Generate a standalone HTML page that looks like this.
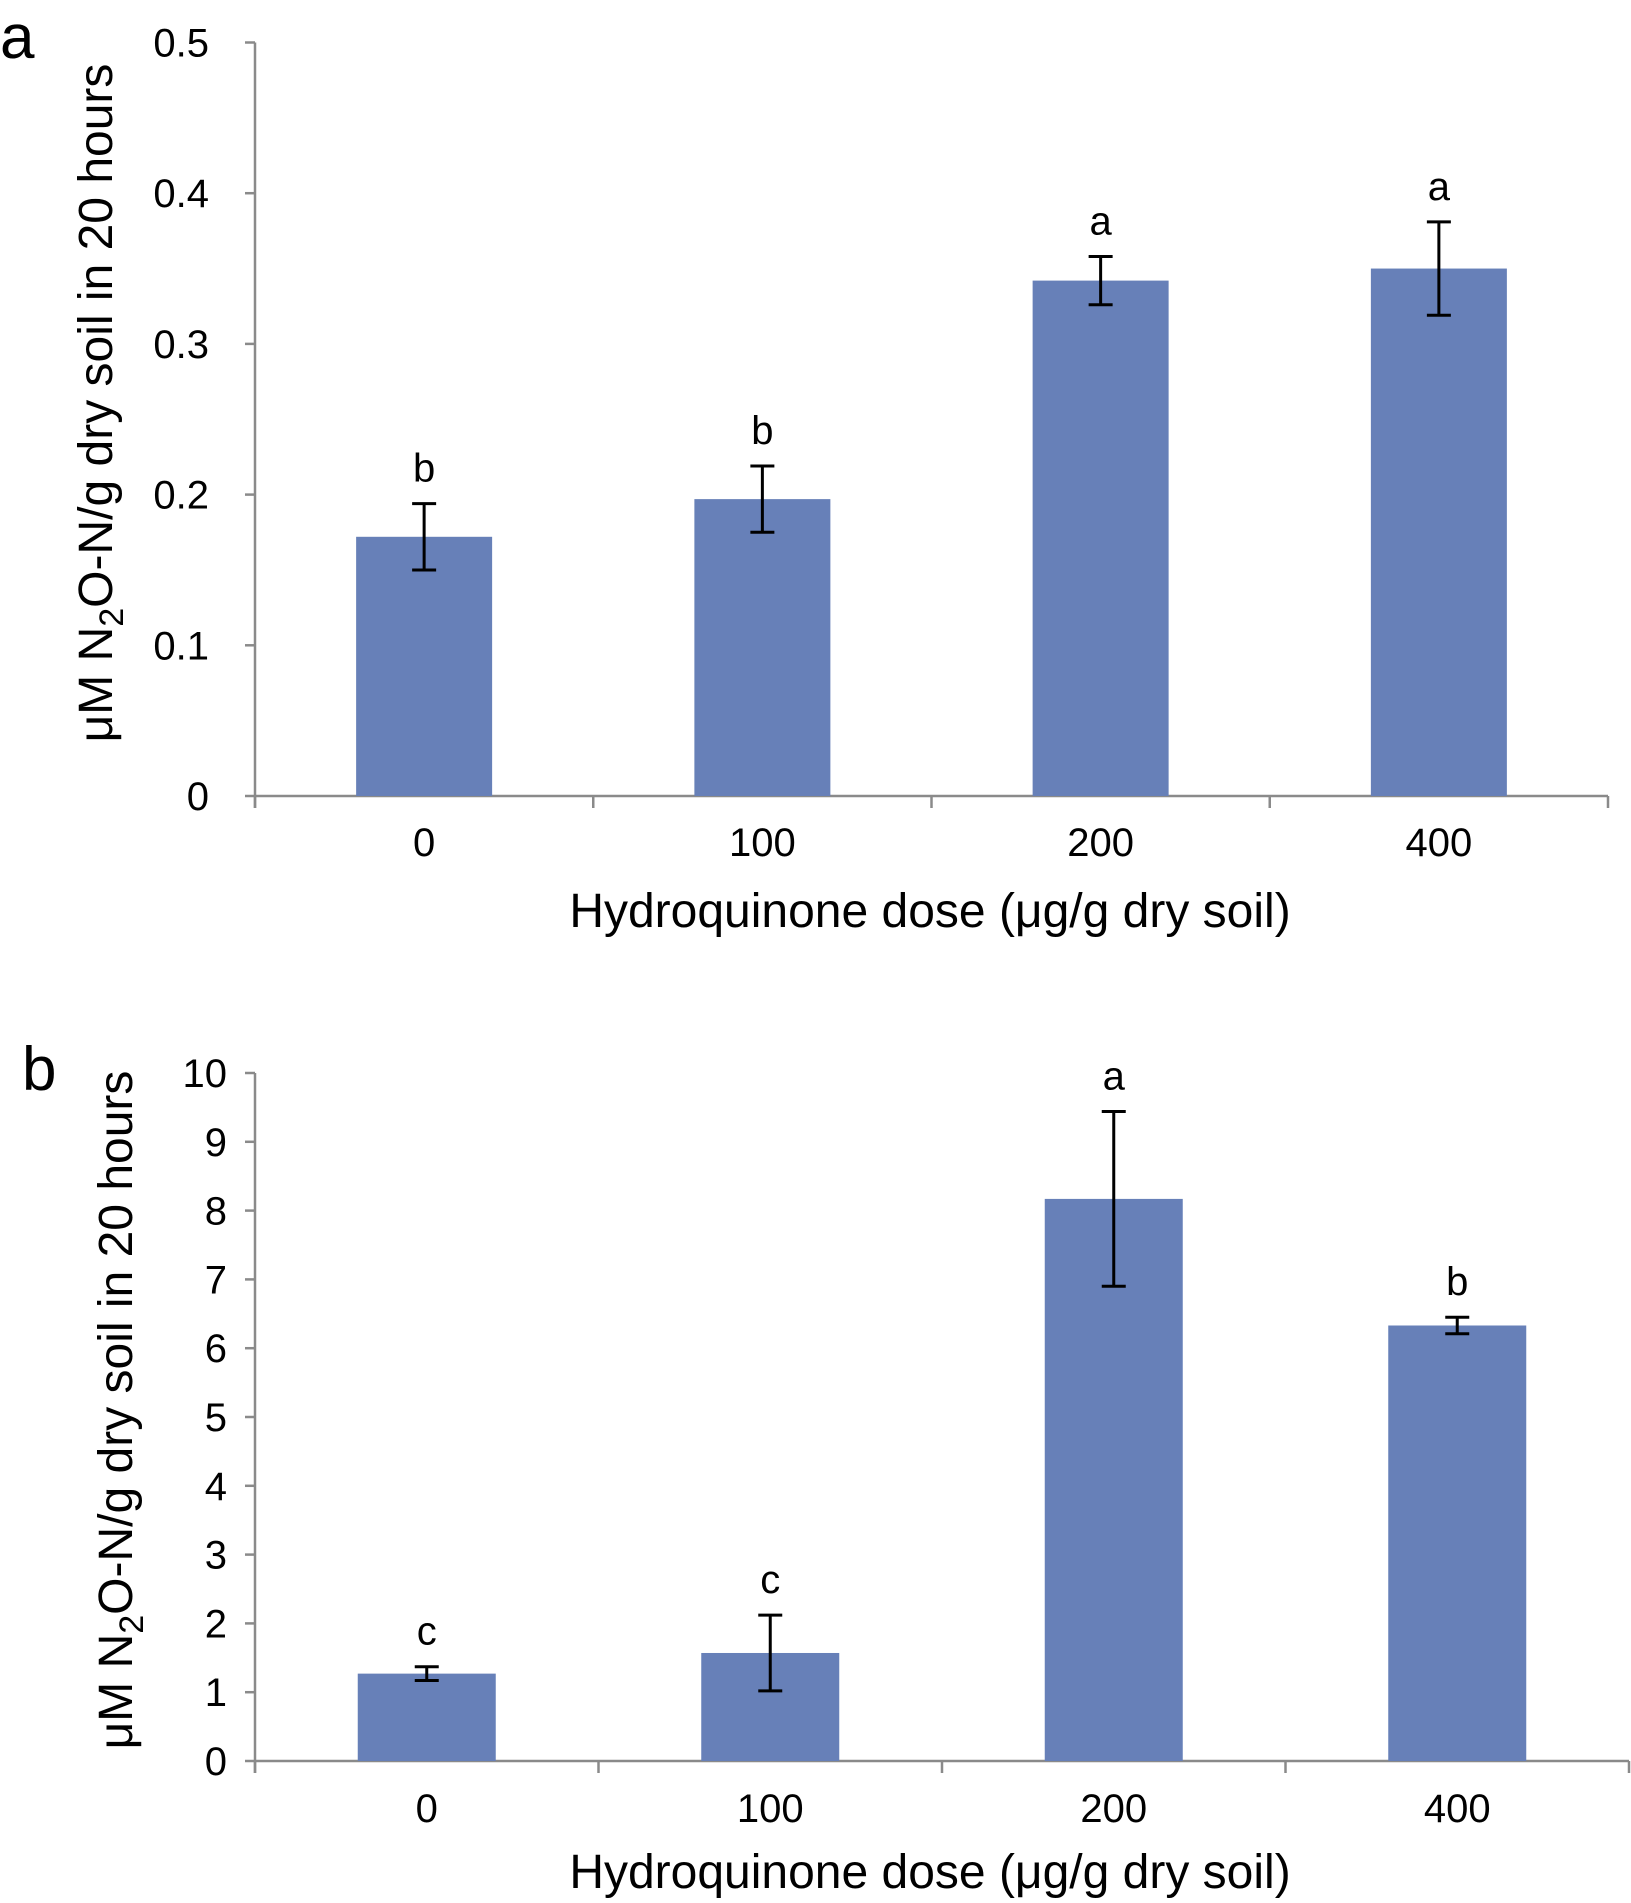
<!DOCTYPE html>
<html><head><meta charset="utf-8"><style>
html,body{margin:0;padding:0;background:#fff;}
svg{display:block;font-family:"Liberation Sans",Arial,sans-serif;}
</style></head><body>
<svg id="fig" width="1631" height="1903" viewBox="0 0 1631 1903">
<text x="0" y="58" font-size="62">a</text>
<text x="22" y="1090" font-size="62">b</text>
<text transform="translate(112,403) rotate(-90)" text-anchor="middle" font-size="48">μM N<tspan font-size="34" dy="11">2</tspan><tspan dy="-11">O-N/g dry soil in 20 hours</tspan></text>
<text transform="translate(132,1410) rotate(-90)" text-anchor="middle" font-size="48">μM N<tspan font-size="34" dy="11">2</tspan><tspan dy="-11">O-N/g dry soil in 20 hours</tspan></text>
<text x="930" y="927" text-anchor="middle" font-size="48">Hydroquinone dose (μg/g dry soil)</text>
<text x="930" y="1888" text-anchor="middle" font-size="48">Hydroquinone dose (μg/g dry soil)</text>
</svg>
<script>
const categories = ["0","100","200","400"];
const valuesA = [0.172,0.197,0.342,0.350];
const errorsA = [0.022,0.022,0.016,0.031];
const lettersA = ["b","b","a","a"];
const ticksA = [0,0.1,0.2,0.3,0.4,0.5];
const tickLabelsA = ["0","0.1","0.2","0.3","0.4","0.5"];
const valuesB = [1.27,1.57,8.17,6.33];
const errorsB = [0.1,0.55,1.27,0.12];
const lettersB = ["c","c","a","b"];
const ticksB = [0,1,2,3,4,5,6,7,8,9,10];
const tickLabelsB = ["0","1","2","3","4","5","6","7","8","9","10"];

const NS = "http://www.w3.org/2000/svg";
const svg = document.getElementById('fig');
function mk(tag, attrs){const e=document.createElementNS(NS,tag);for(const k in attrs)e.setAttribute(k,attrs[k]);svg.appendChild(e);return e;}

function panel(cfg, vals, errs, letters, ticks, tickLabels, id){
  const x0=cfg.x0, x1=cfg.x1, yBase=cfg.y0, yTop=cfg.yTop, max=cfg.max;
  const yS = v => yBase - (v/max)*(yBase-yTop);
  const band = (x1-x0)/categories.length;
  const xC = i => x0 + band*(i+0.5);
  let e;
  e=mk('line',{x1:x0,y1:yTop,x2:x0,y2:yBase+12,stroke:'#8a8a8a','stroke-width':2.5});
  
  
  e=mk('line',{x1:x0,y1:yBase,x2:x1,y2:yBase,stroke:'#8a8a8a','stroke-width':2.5});
  
  
  ticks.forEach((t,i)=>{
    const y=yS(t);
    let l=mk('line',{x1:x0-10,y1:y,x2:x0,y2:y,stroke:'#8a8a8a','stroke-width':2.5});
    
    
    let tx=mk('text',{x:cfg.labelX,y:y+14,'text-anchor':'end','font-size':40});
    tx.textContent=tickLabels[i];
    
    
  });
  for(let i=0;i<=categories.length;i++){
    const x=x0+band*i;
    let l=mk('line',{x1:x,y1:yBase,x2:x,y2:yBase+12,stroke:'#8a8a8a','stroke-width':2.5});
    
    
  }
  categories.forEach((c,i)=>{
    const cx=xC(i), w=cfg.bw;
    let r=mk('rect',{x:cx-w/2,y:yS(vals[i]),width:w,height:yBase-yS(vals[i]),fill:'#6780b8'});
    
    
    const yt=yS(vals[i]+errs[i]), yb=yS(vals[i]-errs[i]);
    let g=mk('path',{d:`M${cx},${yt}V${yb}M${cx-12},${yt}H${cx+12}M${cx-12},${yb}H${cx+12}`,stroke:'#000','stroke-width':3,fill:'none'});
    
    
    let lt=mk('text',{x:cx,y:yt-22,'text-anchor':'middle','font-size':40});
    lt.textContent=letters[i];
    
    
    let xl=mk('text',{x:cx,y:cfg.xLabelY,'text-anchor':'middle','font-size':40});
    xl.textContent=c;
    
    
  });
}
panel({x0:255,x1:1608,y0:796,yTop:42.5,max:0.5,bw:136,labelX:209,xLabelY:856},valuesA,errorsA,lettersA,ticksA,tickLabelsA,'a');
panel({x0:255,x1:1629,y0:1761,yTop:1073,max:10,bw:138,labelX:227,xLabelY:1822},valuesB,errorsB,lettersB,ticksB,tickLabelsB,'b');
</script>
</body></html>
